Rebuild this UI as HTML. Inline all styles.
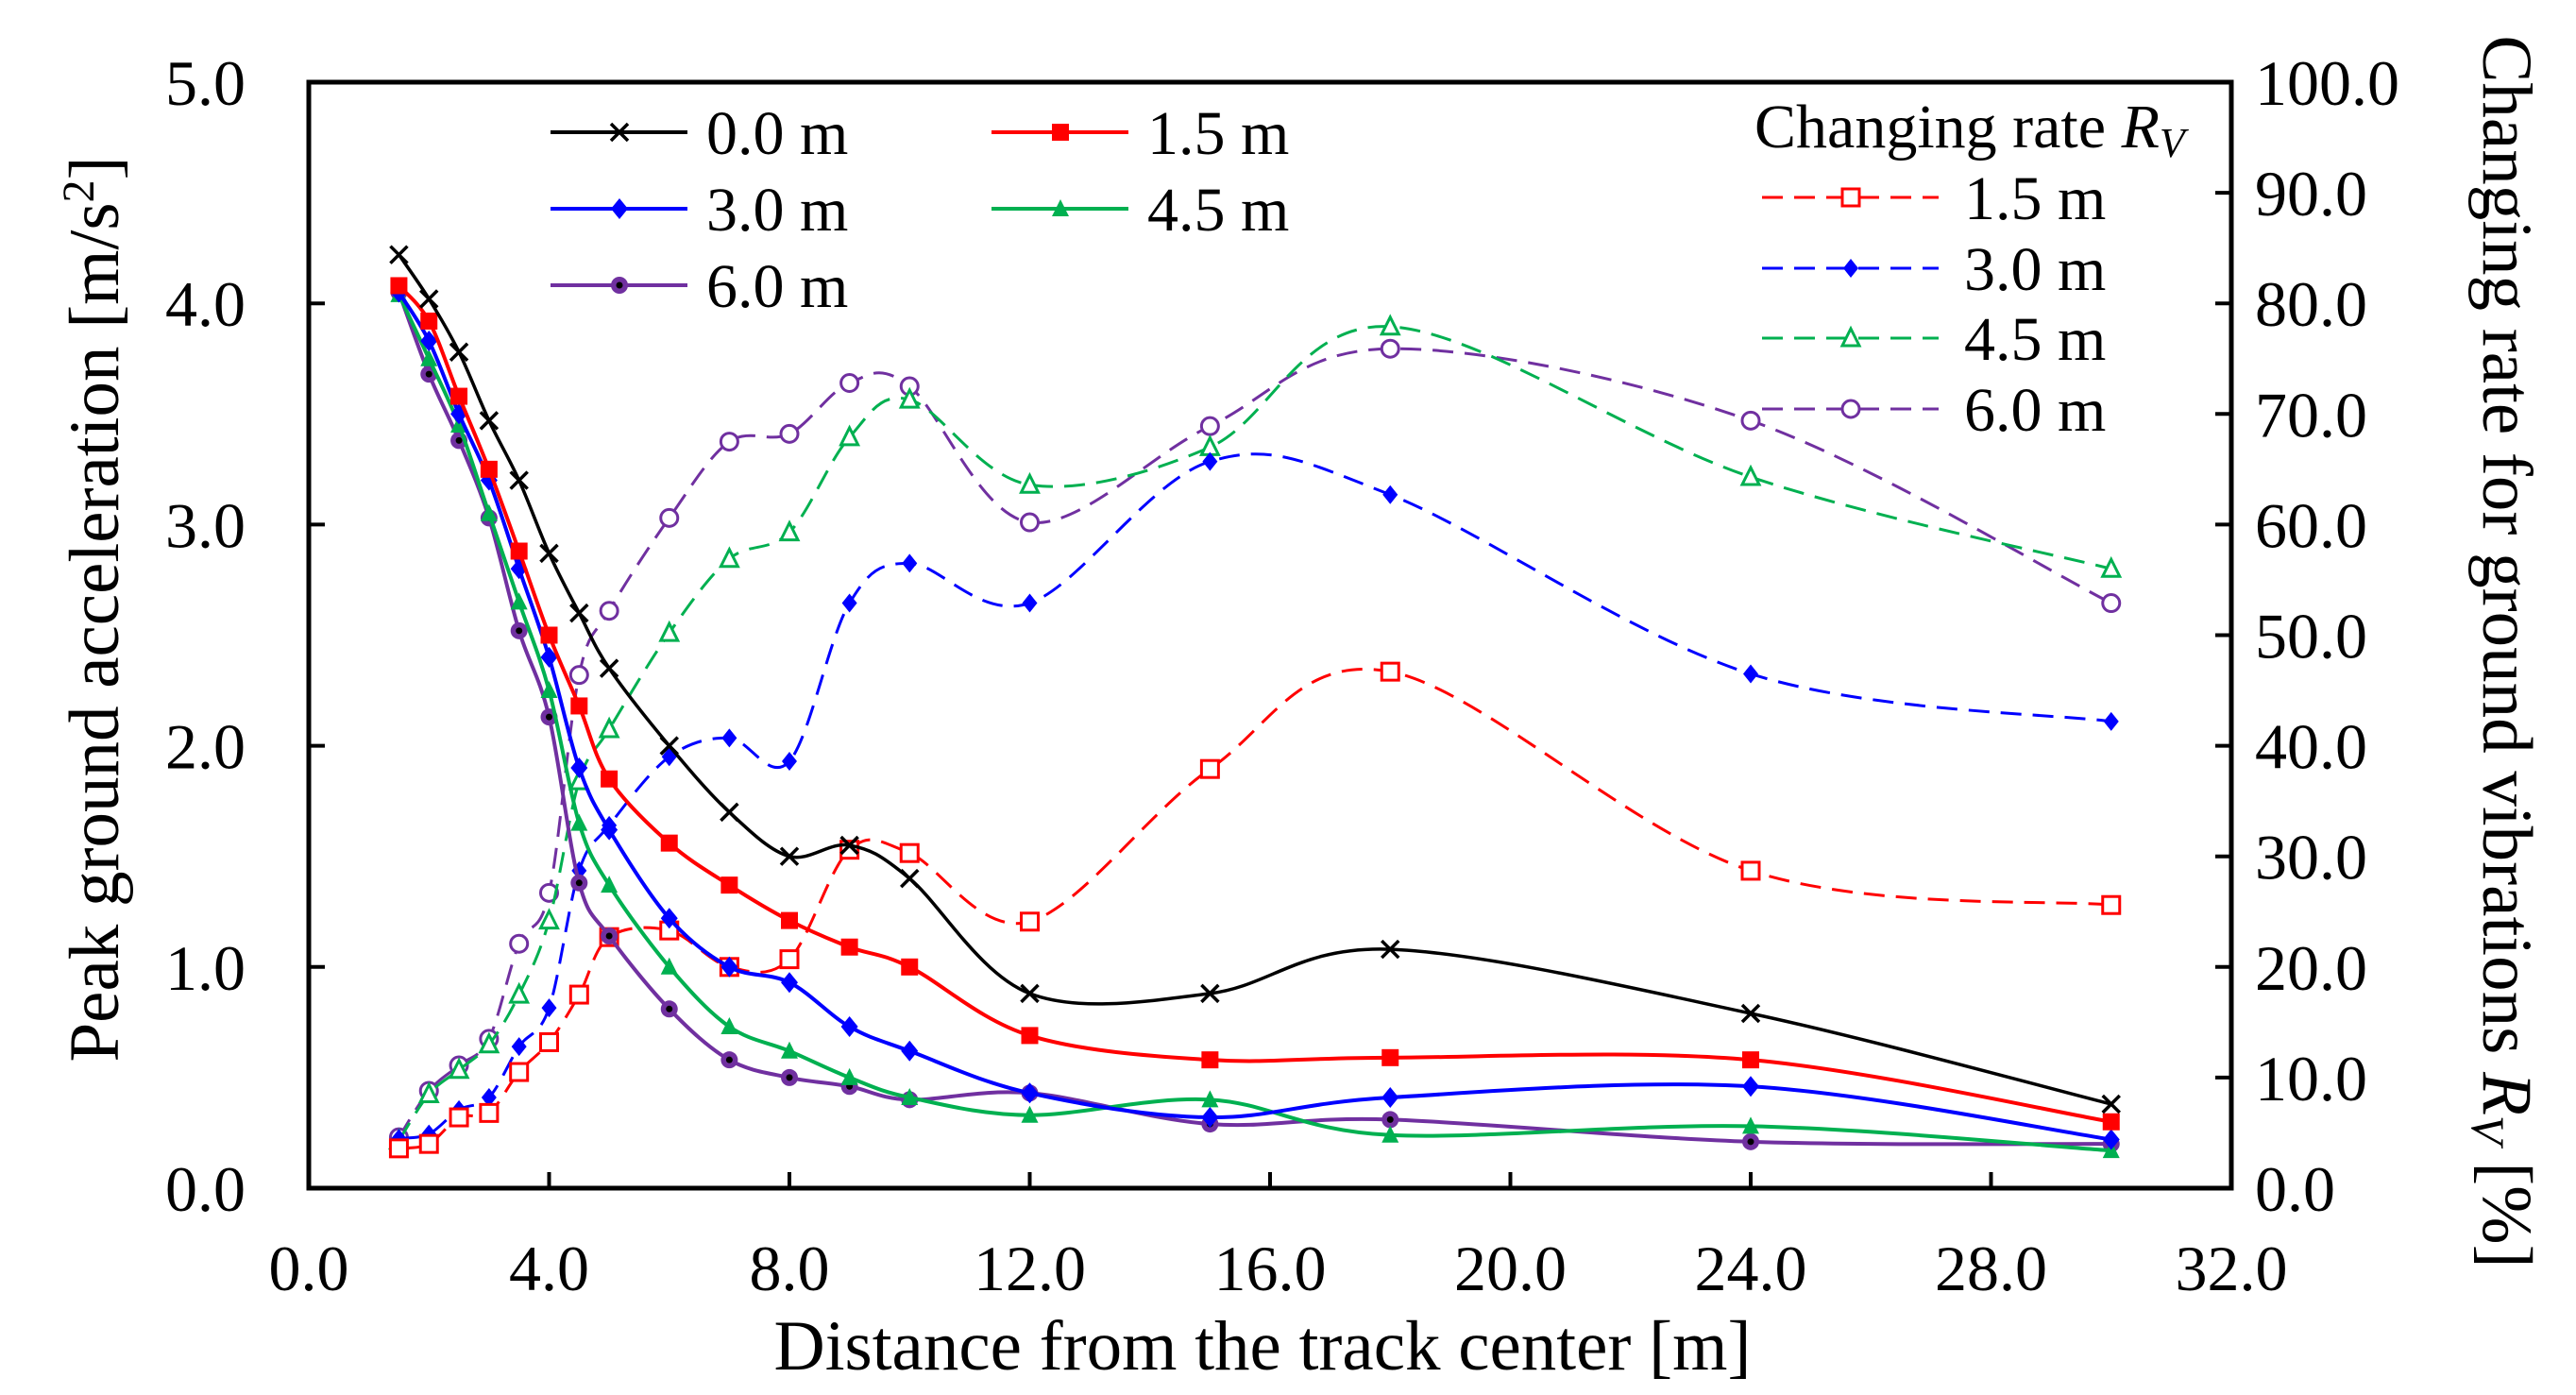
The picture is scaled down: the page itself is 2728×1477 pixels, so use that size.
<!DOCTYPE html>
<html><head><meta charset="utf-8"><style>
body{margin:0;background:#fff}
svg{display:block;font-family:"Liberation Serif",serif}
</style></head><body>
<svg id="chart" width="2728" height="1477" viewBox="0 0 2728 1477" xmlns="http://www.w3.org/2000/svg">
<g id="marks"></g>
<g id="axes"></g>
<g id="legend"></g>
</svg>
<script>
const xs = [1.5,2,2.5,3,3.5,4,4.5,5,6,7,8,9,10,12,15,18,24,30];
const pga00 = [4.22,4.02,3.78,3.47,3.20,2.87,2.60,2.35,2.00,1.70,1.50,1.55,1.40,0.88,0.88,1.08,0.79,0.38];
const pga15 = [4.08,3.92,3.58,3.25,2.88,2.50,2.18,1.85,1.56,1.37,1.21,1.09,1.00,0.69,0.58,0.59,0.58,0.30];
const pga30 = [4.05,3.83,3.50,3.20,2.80,2.40,1.90,1.62,1.22,1.00,0.93,0.73,0.62,0.43,0.32,0.41,0.46,0.22];
const pga45 = [4.04,3.75,3.45,3.05,2.65,2.25,1.65,1.37,1.00,0.73,0.62,0.50,0.41,0.33,0.40,0.24,0.28,0.17];
const pga60 = [4.05,3.68,3.38,3.03,2.52,2.13,1.38,1.14,0.81,0.58,0.50,0.46,0.40,0.43,0.29,0.31,0.21,0.20];
const rv15 = [3.6,4.0,6.4,6.8,10.5,13.2,17.5,22.7,23.3,20.0,20.7,30.6,30.3,24.1,37.9,46.7,28.7,25.6];
const rv30 = [4.5,4.9,7.1,8.2,12.8,16.3,28.7,32.8,39.0,40.7,38.6,52.9,56.5,52.9,65.7,62.7,46.5,42.2];
const rv45 = [4.3,8.5,10.7,13.0,17.5,24.2,36.8,41.5,50.2,56.9,59.3,67.9,71.3,63.6,67.0,77.9,64.3,56.0];
const rv60 = [4.6,8.8,11.1,13.5,22.1,26.7,46.4,52.2,60.6,67.5,68.2,72.8,72.5,60.2,68.9,75.9,69.4,52.9];
const xTicks = ["0.0","4.0","8.0","12.0","16.0","20.0","24.0","28.0","32.0"];
const yTicks = ["0.0","1.0","2.0","3.0","4.0","5.0"];
const y2Ticks = ["0.0","10.0","20.0","30.0","40.0","50.0","60.0","70.0","80.0","90.0","100.0"];

const L=327,R=2363,T=87,B=1258;
const X=v=>L+(v/32)*(R-L);
const Y=v=>B-(v/5)*(B-T);
const Y2=v=>B-(v/100)*(B-T);
const NS="http://www.w3.org/2000/svg";
function mk(tag,attrs,parent){const e=document.createElementNS(NS,tag);for(const k in attrs)e.setAttribute(k,attrs[k]);parent.appendChild(e);return e;}
const marks=document.getElementById('marks'),axes=document.getElementById('axes'),legend=document.getElementById('legend');

function spline(pts){
  let d=`M${pts[0][0]},${pts[0][1]}`;
  for(let i=0;i<pts.length-1;i++){
    const p0=pts[i-1]||pts[i],p1=pts[i],p2=pts[i+1],p3=pts[i+2]||p2;
    const t=0.5/3;
    const c1=[p1[0]+(p2[0]-p0[0])*t,p1[1]+(p2[1]-p0[1])*t];
    const c2=[p2[0]-(p3[0]-p1[0])*t,p2[1]-(p3[1]-p1[1])*t];
    d+=` C${c1[0]},${c1[1]} ${c2[0]},${c2[1]} ${p2[0]},${p2[1]}`;
  }
  return d;
}
function marker(g,type,x,y,color,s){
  s=s||9;
  let m;
  if(type==='x'){m=mk('path',{d:`M${x-s},${y-s}L${x+s},${y+s}M${x-s},${y+s}L${x+s},${y-s}`,stroke:color,'stroke-width':3.5,fill:'none'},g);}
  else if(type==='square'){m=mk('rect',{x:x-s,y:y-s,width:2*s,height:2*s,fill:color},g);}
  else if(type==='osquare'){m=mk('rect',{x:x-s,y:y-s,width:2*s,height:2*s,fill:'#fff',stroke:color,'stroke-width':3},g);}
  else if(type==='diamond'){m=mk('path',{d:`M${x},${y-s-2}L${x+s},${y}L${x},${y+s+2}L${x-s},${y}Z`,fill:color},g);}
  else if(type==='odiamond'){m=mk('path',{d:`M${x},${y-s-1}L${x+s-1},${y}L${x},${y+s+1}L${x-s+1},${y}Z`,fill:color},g);}
  else if(type==='tri'){m=mk('path',{d:`M${x},${y-s-1}L${x+s},${y+s-1}L${x-s},${y+s-1}Z`,fill:color},g);}
  else if(type==='otri'){m=mk('path',{d:`M${x},${y-s-1}L${x+s},${y+s-1}L${x-s},${y+s-1}Z`,fill:'#fff',stroke:color,'stroke-width':3},g);}
  else if(type==='dot'){m=mk('circle',{cx:x,cy:y,r:s,fill:color},g);mk('circle',{cx:x,cy:y,r:3.5,fill:'#000'},g);}
  else if(type==='ocircle'){m=mk('circle',{cx:x,cy:y,r:s,fill:'#fff',stroke:color,'stroke-width':3},g);}
  return m;
}
const series=[
 {name:'pga-0-0m',vals:pga00,color:'#000',m:'x',dash:null,ax:Y,w:3.5},
 {name:'pga-1-5m',vals:pga15,color:'#ff0000',m:'square',dash:null,ax:Y,w:4},
 {name:'pga-3-0m',vals:pga30,color:'#0000ff',m:'diamond',dash:null,ax:Y,w:4},
 {name:'pga-4-5m',vals:pga45,color:'#00b050',m:'tri',dash:null,ax:Y,w:4},
 {name:'pga-6-0m',vals:pga60,color:'#7030a0',m:'dot',dash:null,ax:Y,w:4},
 {name:'rv-1-5m',vals:rv15,color:'#ff0000',m:'osquare',dash:'22,12',ax:Y2,w:3},
 {name:'rv-3-0m',vals:rv30,color:'#0000ff',m:'odiamond',dash:'22,12',ax:Y2,w:3},
 {name:'rv-4-5m',vals:rv45,color:'#00b050',m:'otri',dash:'22,12',ax:Y2,w:3},
 {name:'rv-6-0m',vals:rv60,color:'#7030a0',m:'ocircle',dash:'22,12',ax:Y2,w:3}
];
series.slice().reverse().forEach(s=>{
  const g=mk('g',{},marks);
  
  
  const pts=xs.map((x,i)=>[X(x),s.ax(s.vals[i])]);
  const p=mk('path',{d:spline(pts),fill:'none',stroke:s.color,'stroke-width':s.w},g);
  if(s.dash)p.setAttribute('stroke-dasharray',s.dash);
  
  
  pts.forEach(pt=>{
    const m=marker(g,s.m,pt[0],pt[1],s.color);
    
    
  });
});

const frame=mk('rect',{x:L,y:T,width:R-L,height:B-T,fill:'none',stroke:'#000','stroke-width':5},axes);


const TK=17,FS=68;
xTicks.forEach(t=>{
  const x=X(parseFloat(t));
  mk('line',{x1:x,y1:B,x2:x,y2:B-TK,stroke:'#000','stroke-width':4},axes);
  const tx=mk('text',{x:x,y:B+108,'font-size':FS,'text-anchor':'middle'},axes);
  tx.textContent=t;
  
  
});
yTicks.forEach(t=>{
  const y=Y(parseFloat(t));
  mk('line',{x1:L,y1:y,x2:L+TK,y2:y,stroke:'#000','stroke-width':4},axes);
  const tx=mk('text',{x:260,y:y+24,'font-size':FS,'text-anchor':'end'},axes);
  tx.textContent=t;
  
  
});
y2Ticks.forEach(t=>{
  const y=Y2(parseFloat(t));
  mk('line',{x1:R,y1:y,x2:R-TK,y2:y,stroke:'#000','stroke-width':4},axes);
  const tx=mk('text',{x:2388,y:y+24,'font-size':FS},axes);
  tx.textContent=t;
  
  
});
</script>
<script>
(function(){
const axes=document.getElementById('axes');
function add(html,parent){parent.insertAdjacentHTML('beforeend',html);}
add(`<text x="1337" y="1450" font-size="75" text-anchor="middle">Distance from the track center [m]</text>`,axes);
add(`<text transform="translate(125,645) rotate(-90)" font-size="75" text-anchor="middle">Peak ground acceleration [m/s<tspan font-size="48" dy="-26">2</tspan><tspan dy="26">]</tspan></text>`,axes);
add(`<text transform="translate(2630,690) rotate(90)" font-size="75" text-anchor="middle">Changing rate for ground vibrations <tspan font-style="italic">R</tspan><tspan font-style="italic" font-size="50" dy="12">V</tspan><tspan dy="-12"> [%]</tspan></text>`,axes);
})();
const legL=[
 {t:'0.0 m',c:'#000',m:'x',x:583,y:140},
 {t:'1.5 m',c:'#ff0000',m:'square',x:1050,y:140},
 {t:'3.0 m',c:'#0000ff',m:'diamond',x:583,y:221},
 {t:'4.5 m',c:'#00b050',m:'tri',x:1050,y:221},
 {t:'6.0 m',c:'#7030a0',m:'dot',x:583,y:302}
];
legL.forEach(e=>{
  const g=mk('g',{},legend);
  
  
  mk('line',{x1:e.x,y1:e.y,x2:e.x+145,y2:e.y,stroke:e.c,'stroke-width':4},g);
  marker(g,e.m,e.x+73,e.y,e.c);
  const t=mk('text',{x:e.x+165,y:e.y+23,'font-size':66},g);
  t.textContent=e.t;
});
const lt=mk('text',{x:1858,y:156,'font-size':66},legend);


lt.innerHTML='Changing rate <tspan font-style="italic">R</tspan><tspan font-style="italic" font-size="44" dy="10">V</tspan>';
const legR=[
 {t:'1.5 m',c:'#ff0000',m:'osquare',y:209},
 {t:'3.0 m',c:'#0000ff',m:'odiamond',y:284},
 {t:'4.5 m',c:'#00b050',m:'otri',y:358},
 {t:'6.0 m',c:'#7030a0',m:'ocircle',y:433}
];
legR.forEach(e=>{
  const g=mk('g',{},legend);
  
  
  mk('line',{x1:1866,y1:e.y,x2:2053,y2:e.y,stroke:e.c,'stroke-width':3,'stroke-dasharray':'22,12'},g);
  marker(g,e.m,1960,e.y,e.c);
  const t=mk('text',{x:2080,y:e.y+23,'font-size':66},g);
  t.textContent=e.t;
});
</script>
</body></html>
